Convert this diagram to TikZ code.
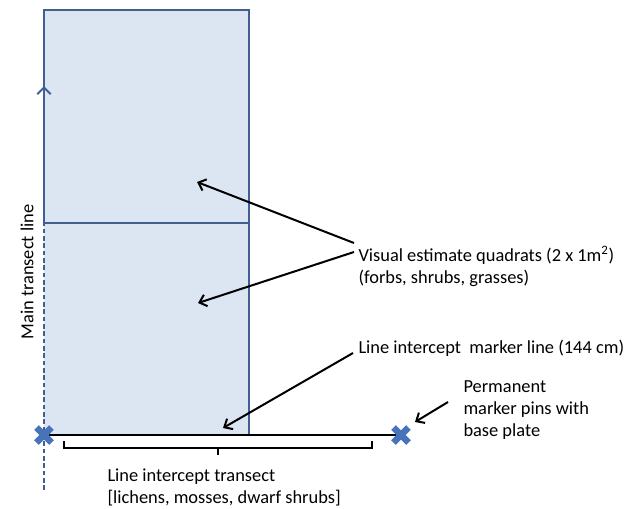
\documentclass[tikz,border=0pt]{standalone}
\usepackage{fontspec}
\setmainfont{Carlito}
\usetikzlibrary{arrows.meta}
\definecolor{quadfill}{RGB}{220,230,242}
\definecolor{quadline}{RGB}{65,95,145}
\definecolor{pinblue}{RGB}{70,115,185}
\tikzset{every picture/.style={line width=0.75pt}}

\begin{document}
\begin{tikzpicture}[x=0.75pt,y=0.75pt,yscale=-1,xscale=1,
  label/.style={align=left, anchor=west, inner sep=0pt, font=\fontsize{13.8}{16.5}\selectfont},
  pointer/.style={line width=1.5pt, -{Straight Barb[length=5pt,width=9pt]}},
  pinmark/.style={line width=5pt, pinblue}]
\useasboundingbox (0,0) rectangle (627,508);

%Quadrats
\fill [quadfill] (44,10) rectangle (249,435);
\draw [quadline, line width=1.5pt] (44,223) -- (44,10) -- (249,10) -- (249,435);
\draw [quadline, line width=1.5pt] (44,223) -- (249,223);

%Main transect line
\coordinate (tstart) at (44,490);
\coordinate (tmid) at (44,223);
\coordinate (tend) at (44,86);
\draw [quadline, line width=1.2pt, dash pattern={on 3.5pt off 2pt}] (tstart) -- (tmid);
\draw [quadline, line width=1.5pt, -{Straight Barb[length=5pt,width=10pt]}] (tmid) -- (tend);

%Marker line and pins
\coordinate (pinA) at (44,435);
\coordinate (pinB) at (401,435);
\draw [line width=2pt] (pinA) -- (pinB);
\foreach \p in {pinA,pinB}
  \draw [pinmark] ([shift={(-7.5,-7.5)}]\p) -- ([shift={(7.5,7.5)}]\p)
                  ([shift={(-7.5,7.5)}]\p) -- ([shift={(7.5,-7.5)}]\p);

%Bracket
\draw [line width=0.9pt] (64,441) |- (218,448) -- (218,455) (218,448) -| (372,441);

% Text Nodes
\node [label] (quadtext) at (358,266) {Visual estimate quadrats (2 x 1m\textsuperscript{2})\\(forbs, shrubs, grasses)};
\node [label] (linetext) at (358,348) {Line intercept~ marker line (144 cm)};
\node [label] (pintext) at (463,410) {Permanent\\marker pins with\\base plate};
\node [label] (transtext) at (107,487) {Line intercept transect\\{[lichens, mosses, dwarf shrubs]}};
\node [label, rotate=90, anchor=center] (maintext) at (27,272) {Main transect line};

%Pointers
\coordinate (upperq) at (197,182);
\coordinate (lowerq) at (198,303);
\coordinate (lineq) at (223,428);
\coordinate (pinq) at (415,422);
\draw [pointer] (354,243) -- (upperq);
\draw [pointer] (354,252) -- (lowerq);
\draw [pointer] (353,353) -- (lineq);
\draw [pointer] (448,402) -- (pinq);
\end{tikzpicture}
\end{document}
